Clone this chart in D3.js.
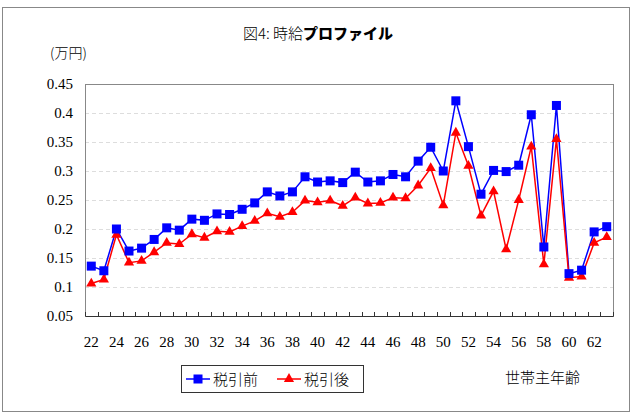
<!DOCTYPE html>
<html><head><meta charset="utf-8">
<script src="https://cdn.jsdelivr.net/npm/d3@7"></script>
<style>body{margin:0;background:#fff}svg{display:block}</style>
</head><body><svg id="c" width="637" height="414"></svg>
<script>
const ages = d3.range(22, 64);
const before = [0.136,0.128,0.200,0.162,0.167,0.182,0.202,0.198,0.217,0.215,0.226,0.225,0.234,0.245,0.264,0.257,0.264,0.290,0.281,0.283,0.280,0.298,0.281,0.283,0.294,0.290,0.317,0.341,0.300,0.421,0.342,0.260,0.301,0.299,0.310,0.397,0.169,0.413,0.123,0.129,0.195,0.204];
const after = [0.106,0.113,0.190,0.142,0.145,0.160,0.176,0.174,0.191,0.185,0.196,0.195,0.205,0.214,0.227,0.221,0.229,0.249,0.246,0.249,0.240,0.254,0.244,0.245,0.254,0.253,0.275,0.305,0.241,0.366,0.309,0.223,0.265,0.165,0.250,0.342,0.139,0.355,0.116,0.118,0.176,0.186];
const yTicks = [0.05,0.1,0.15,0.2,0.25,0.3,0.35,0.4,0.45];
const xLabels = d3.range(22, 63, 2);
const seriesNames = ["税引前","税引後"];

const svg = d3.select("#c");
const L=85, T=84, R=613, B=316;
const serif = "'Liberation Serif','DejaVu Serif',serif";
const jp = "'Noto Sans CJK JP',sans-serif";

svg.append("rect").attr("x",2.5).attr("y",7.5).attr("width",627).attr("height",404)
  .attr("fill","none").attr("stroke","#888").attr("stroke-width",1);

const x = d3.scaleBand().domain(ages).range([L,R]);
const y = d3.scaleLinear().domain([0.05,0.45]).range([B,T]);

// title
const title = svg.append("text").attr("x",318).attr("y",39).attr("text-anchor","middle").attr("font-size",15);
title.append("tspan").attr("font-family",jp).attr("font-weight",300).text("図4: 時給");
title.append("tspan").attr("font-family",jp).attr("font-weight",900).text("プロファイル");

svg.append("text").attr("x",50).attr("y",58).attr("font-family",jp).attr("font-size",14).attr("font-weight",300).text("(万円)");

// gridlines
svg.append("g").selectAll("line").data(yTicks.slice(1,-1)).join("line")
  .attr("x1",L).attr("x2",R).attr("y1",d=>Math.round(y(d))+0.5).attr("y2",d=>Math.round(y(d))+0.5)
  .attr("stroke","#ddd").attr("stroke-dasharray","4,3");

svg.append("rect").attr("x",L+0.5).attr("y",T+0.5).attr("width",R-L).attr("height",B-T)
  .attr("fill","none").attr("stroke","#888");

// y axis
const ya = svg.append("g").attr("transform",`translate(${L},0)`)
  .call(d3.axisLeft(y).tickValues(yTicks).tickSize(0).tickPadding(12).tickFormat(d=>String(+d.toFixed(2))));
ya.select(".domain").remove();
ya.selectAll("text").attr("font-family",serif).attr("font-size",15).attr("fill","#000");

// x axis
const xa = svg.append("g").attr("transform",`translate(0,${B})`)
  .call(d3.axisBottom(x).tickSize(0).tickPadding(20).tickFormat(d=>xLabels.includes(d)?d:""));
xa.select(".domain").attr("stroke","#333");
xa.selectAll("text").attr("font-family",serif).attr("font-size",15).attr("fill","#000");
svg.append("g").selectAll("line").data(d3.range(ages.length+1)).join("line")
  .attr("x1",i=>Math.round(L+i*x.step())+0.5).attr("x2",i=>Math.round(L+i*x.step())+0.5)
  .attr("y1",B).attr("y2",B-4).attr("stroke","#333");

const cx = d => x(d)+x.bandwidth()/2;
const line = d3.line().x((d,i)=>cx(ages[i])).y(d=>y(d));

svg.append("path").datum(before).attr("d",line).attr("fill","none").attr("stroke","#0000ff").attr("stroke-width",1.5);
svg.append("path").datum(after).attr("d",line).attr("fill","none").attr("stroke","#ff0000").attr("stroke-width",1.5);

const tri = d3.symbol().type(d3.symbolTriangle).size(45);
svg.append("g").selectAll("path").data(after).join("path")
  .attr("d",tri).attr("transform",(d,i)=>`translate(${cx(ages[i])},${y(d)})`).attr("fill","#ff0000");
svg.append("g").selectAll("rect").data(before).join("rect")
  .attr("x",(d,i)=>cx(ages[i])-4.5).attr("y",d=>y(d)-4.5).attr("width",9).attr("height",9).attr("fill","#0000ff");

// legend
const lg = svg.append("g");
lg.append("rect").attr("x",181.5).attr("y",365.5).attr("width",182).attr("height",27).attr("fill","#fff").attr("stroke","#333");
lg.append("line").attr("x1",186).attr("x2",210).attr("y1",379).attr("y2",379).attr("stroke","#0000ff").attr("stroke-width",1.5);
lg.append("rect").attr("x",193.5).attr("y",374.5).attr("width",9).attr("height",9).attr("fill","#0000ff");
lg.append("text").attr("x",213).attr("y",385).attr("font-family",jp).attr("font-size",15).attr("font-weight",300).text(seriesNames[0]);
lg.append("line").attr("x1",277).attr("x2",301).attr("y1",379).attr("y2",379).attr("stroke","#ff0000").attr("stroke-width",1.5);
lg.append("path").attr("d",tri).attr("transform","translate(289,379)").attr("fill","#ff0000");
lg.append("text").attr("x",304).attr("y",385).attr("font-family",jp).attr("font-size",15).attr("font-weight",300).text(seriesNames[1]);

svg.append("text").attr("x",505).attr("y",383).attr("font-family",jp).attr("font-size",15).attr("font-weight",300).text("世帯主年齢");
</script></body></html>
